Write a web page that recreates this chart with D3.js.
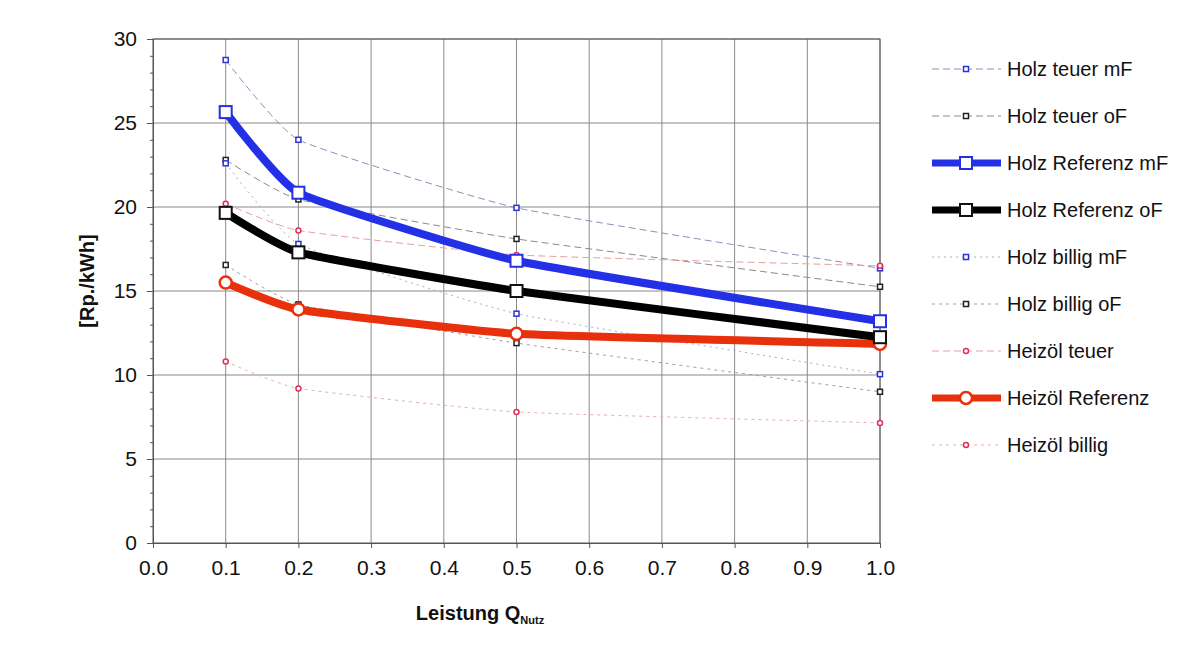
<!DOCTYPE html>
<html><head><meta charset="utf-8">
<script src="https://cdn.jsdelivr.net/npm/d3@7"></script>
<style>
body{margin:0;background:#fff;}
svg{display:block;font-family:"Liberation Sans",Arial,Helvetica,sans-serif;}
</style></head>
<body><svg id="c" width="1197" height="646"></svg>
<script>
const xValues = [0.1, 0.2, 0.5, 1.0];
const holzTeuerMF = [28.75, 24.0, 19.95, 16.35];
const holzTeuerOF = [22.8, 20.45, 18.1, 15.25];
const holzReferenzMF = [25.65, 20.85, 16.8, 13.2];
const holzReferenzOF = [19.65, 17.3, 15.0, 12.25];
const holzBilligMF = [22.6, 17.8, 13.65, 10.05];
const holzBilligOF = [16.55, 14.2, 11.9, 9.0];
const heizoelTeuer = [20.2, 18.6, 17.15, 16.5];
const heizoelReferenz = [15.5, 13.9, 12.45, 11.85];
const heizoelBillig = [10.8, 9.2, 7.8, 7.15];
const xTicks = [0.0,0.1,0.2,0.3,0.4,0.5,0.6,0.7,0.8,0.9,1.0];
const yTicks = [0,5,10,15,20,25,30];

const series = [
  {name:"Holz teuer mF", values:holzTeuerMF, line:"#8a90b8", w:1, dash:"7,4", marker:"sq", mc:"#2b33d8", ms:5},
  {name:"Holz teuer oF", values:holzTeuerOF, line:"#8a8a8a", w:1, dash:"7,4", marker:"sq", mc:"#222", ms:5},
  {name:"Holz Referenz mF", values:holzReferenzMF, line:"#2330e6", w:8, dash:null, marker:"sq", mc:"#2330e6", ms:12, big:true},
  {name:"Holz Referenz oF", values:holzReferenzOF, line:"#000", w:8, dash:null, marker:"sq", mc:"#111", ms:12, big:true},
  {name:"Holz billig mF", values:holzBilligMF, line:"#a6aad0", w:1, dash:"2,4", marker:"sq", mc:"#2b33d8", ms:5},
  {name:"Holz billig oF", values:holzBilligOF, line:"#a0a0a0", w:1, dash:"3,4", marker:"sq", mc:"#222", ms:5},
  {name:"Heizöl teuer", values:heizoelTeuer, line:"#e8a0a0", w:1, dash:"7,4", marker:"ci", mc:"#e0305a", ms:5},
  {name:"Heizöl Referenz", values:heizoelReferenz, line:"#e8300c", w:8, dash:null, marker:"ci", mc:"#e8300c", ms:12, big:true},
  {name:"Heizöl billig", values:heizoelBillig, line:"#e6b0b0", w:1, dash:"3,4", marker:"ci", mc:"#e0305a", ms:5}
];

const svg = d3.select("#c");
const L=153, R=880, T=39, B=543;
const x = d3.scaleLinear().domain([0,1]).range([L,R]);
const y = d3.scaleLinear().domain([0,30]).range([B,T]);

// grid
const g = svg.append("g");
g.selectAll(".vg").data(xTicks.slice(1)).enter().append("line")
  .attr("x1",d=>x(d)).attr("x2",d=>x(d)).attr("y1",T).attr("y2",B)
  .attr("stroke","#8a8a8a").attr("stroke-width",1);
g.selectAll(".hg").data(yTicks.slice(1)).enter().append("line")
  .attr("x1",L).attr("x2",R).attr("y1",d=>y(d)).attr("y2",d=>y(d))
  .attr("stroke","#8a8a8a").attr("stroke-width",1);
svg.append("rect").attr("x",L).attr("y",T).attr("width",R-L).attr("height",B-T)
  .attr("fill","none").attr("stroke","#555").attr("stroke-width",1);

// axes
const yAxis = d3.axisLeft(y).tickValues(yTicks).tickSize(6).tickPadding(10).tickFormat(d3.format("d"));
const ya = svg.append("g").attr("transform",`translate(${L},0)`).call(yAxis);
const yMinor = d3.axisLeft(y).tickValues(d3.range(0,31,1)).tickSize(3).tickFormat("");
svg.append("g").attr("transform",`translate(${L},0)`).call(yMinor).call(s=>s.select(".domain").remove())
  .selectAll("line").attr("stroke","#555");
const xAxis = d3.axisBottom(x).tickValues(xTicks).tickSize(5).tickPadding(12).tickFormat(d3.format(".1f"));
const xa = svg.append("g").attr("transform",`translate(0,${B})`).call(xAxis);
[ya,xa].forEach(a=>{
  a.selectAll("text").attr("font-size",21).attr("fill","#111").attr("font-family","Liberation Sans, Arial, sans-serif");
  a.selectAll("line").attr("stroke","#555");
  a.select(".domain").attr("stroke","#555");
});

// titles
svg.append("text").attr("transform",`translate(94,281) rotate(-90)`).attr("text-anchor","middle")
  .attr("font-size",20).attr("font-weight","bold").attr("fill","#111").text("[Rp./kWh]");
const xt = svg.append("text").attr("x",480).attr("y",620).attr("text-anchor","middle")
  .attr("font-size",20).attr("font-weight","bold").attr("fill","#111");
xt.append("tspan").text("Leistung Q");
xt.append("tspan").attr("font-size",11).attr("dy",4).text("Nutz");

// lines
const line = d3.line().x((d,i)=>x(xValues[i])).y(d=>y(d)).curve(d3.curveCardinal.tension(0.6));
const order = [0,1,4,5,6,8,7,3,2];
const plot = svg.append("g");
order.forEach(k=>{
  const s = series[k];
  plot.append("path").attr("d",line(s.values)).attr("fill","none")
    .attr("stroke",s.line).attr("stroke-width",s.w).attr("stroke-dasharray",s.dash)
    .attr("stroke-linejoin","round");
});
function marker(sel, s, cx, cy){
  if(s.marker==="sq"){
    sel.append("rect").attr("x",cx-s.ms/2).attr("y",cy-s.ms/2).attr("width",s.ms).attr("height",s.ms)
      .attr("fill","#fff").attr("stroke",s.mc).attr("stroke-width",s.big?2:1.5);
  } else {
    sel.append("circle").attr("cx",cx).attr("cy",cy).attr("r",s.ms/2)
      .attr("fill","#fff").attr("stroke",s.mc).attr("stroke-width",s.big?2.5:1.5);
  }
}
order.forEach(k=>{
  const s = series[k];
  s.values.forEach((v,i)=>marker(plot,s,x(xValues[i]),y(v)));
});

// legend
const leg = svg.append("g");
series.forEach((s,i)=>{
  const yy = 69 + i*47;
  leg.append("line").attr("x1",932).attr("x2",1001).attr("y1",yy).attr("y2",yy)
    .attr("stroke",s.line).attr("stroke-width",s.big?7:1).attr("stroke-dasharray",s.dash);
  marker(leg,s,966,yy);
  leg.append("text").attr("x",1007).attr("y",yy+7).attr("font-size",20).attr("fill","#111").text(s.name);
});
</script></body></html>
